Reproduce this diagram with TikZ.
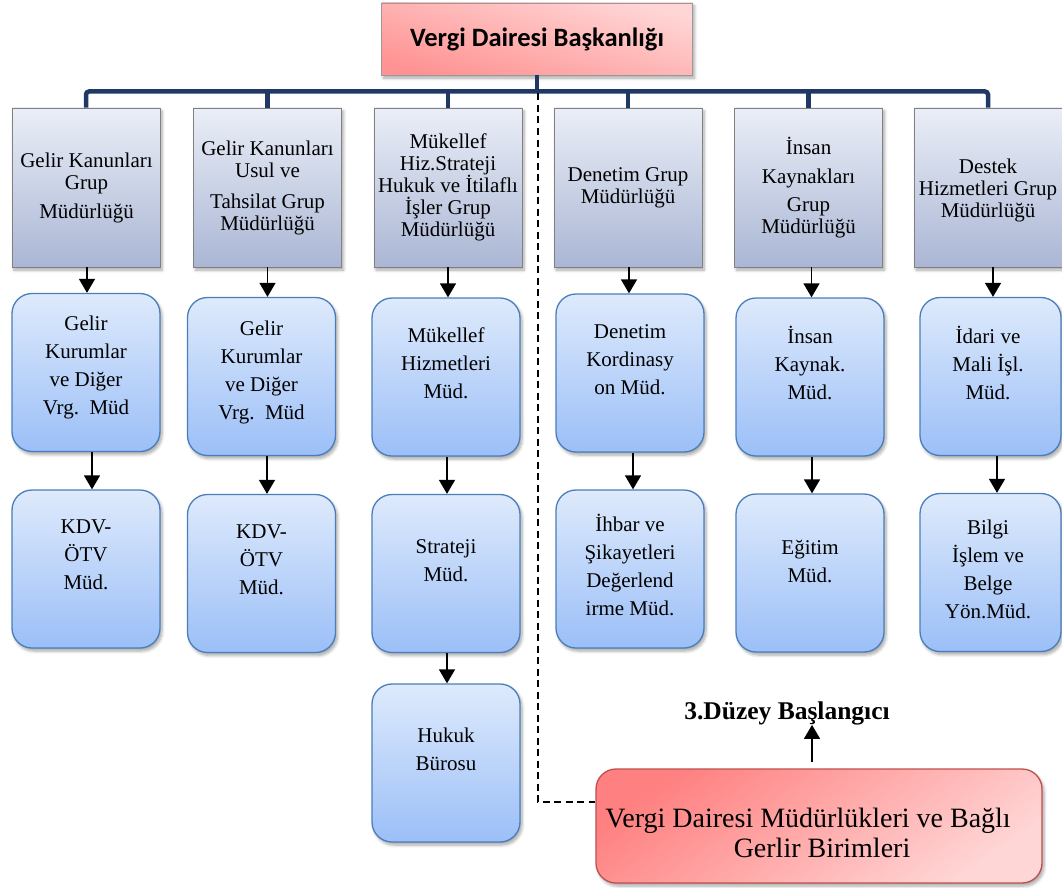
\documentclass[tikz,border=0pt]{standalone}
\usepackage{fontspec}
\setmainfont{Liberation Serif}
\newfontfamily\headfont{Carlito}
\usetikzlibrary{arrows.meta,shadows.blur,calc}

\definecolor{busblue}{RGB}{31,56,100}
\definecolor{graytop}{RGB}{234,238,247}
\definecolor{graybot}{RGB}{170,182,212}
\definecolor{grayedge}{RGB}{128,128,128}
\definecolor{bluetop}{RGB}{222,234,252}
\definecolor{bluebot}{RGB}{155,191,247}
\definecolor{blueedge}{RGB}{74,126,187}
\definecolor{pinklight}{RGB}{255,214,214}
\definecolor{pinkdark}{RGB}{255,128,128}
\definecolor{rededge}{RGB}{190,80,77}

\begin{document}
\begin{tikzpicture}[x=1pt,y=-1pt,
  softshadow/.style={blur shadow={shadow xshift=2pt, shadow yshift=-3pt,
      shadow opacity=35, shadow blur steps=6, shadow blur radius=3pt}},
  headbox/.style={draw=grayedge!80, line width=0.8pt, shading=axis,
      top color=pinklight, bottom color=pinkdark!85, shading angle=-15,
      minimum width=311pt, minimum height=72pt, inner sep=0pt, softshadow,
      font=\headfont\bfseries\fontsize{26.5}{30}\selectfont},
  groupbox/.style={draw=grayedge, line width=0.8pt, top color=graytop,
      bottom color=graybot, minimum width=148pt, minimum height=159pt,
      inner sep=0pt, softshadow},
  unitbox/.style={draw=blueedge, line width=1.3pt, rounded corners=20pt,
      top color=bluetop, bottom color=bluebot, minimum width=148pt,
      minimum height=158pt, inner sep=0pt, softshadow},
  centrebox/.style={draw=rededge, line width=1.3pt, rounded corners=20pt,
      shading=axis, top color=pinkdark, bottom color=pinklight,
      shading angle=35, minimum width=446pt, minimum height=114pt,
      inner sep=0pt, softshadow},
  grouptext/.style={align=center, inner sep=0pt,
      font=\fontsize{21}{22}\selectfont},
  unittext/.style={align=center, inner sep=0pt,
      font=\fontsize{21}{28}\selectfont},
  centretext/.style={align=center, inner sep=0pt,
      font=\fontsize{28}{30}\selectfont},
  leveltext/.style={inner sep=0pt, font=\bfseries\fontsize{25.5}{28}\selectfont},
  arr/.style={-{Triangle[width=16pt,length=14pt]}, line width=1.5pt},
  bus/.style={busblue, line width=4.5pt},
  dashline/.style={line width=1.3pt, dash pattern=on 7pt off 4.5pt},
]
\useasboundingbox (0,0) rectangle (1062,888);
\clip (0,0) rectangle (1062,888);

% head office
\node[headbox] (vdb) at (537,39) {Vergi Dairesi Başkanlığı};

% group directorates
\node[groupbox] (g1) at (86,187.5) {};
\node[groupbox] (g2) at (267.5,187.5) {};
\node[groupbox] (g3) at (448,187.5) {};
\node[groupbox] (g4) at (628,187.5) {};
\node[groupbox] (g5) at (808.5,187.5) {};
\node[groupbox] (g6) at (988,187.5) {};

\node[grouptext] (gt1) at (86.5,188) {Gelir Kanunları\\Grup\\[7pt]Müdürlüğü};
\node[grouptext] (gt2) at (267.5,187.5) {Gelir Kanunları\\Usul ve\\[9pt]Tahsilat Grup\\Müdürlüğü};
\node[grouptext] (gt3) at (448,187.5) {Mükellef\\Hiz.Strateji\\Hukuk ve İtilaflı\\İşler Grup\\Müdürlüğü};
\node[grouptext] (gt4) at (628,188) {Denetim Grup\\Müdürlüğü};
\node[grouptext] (gt5) at (808.5,187.5) {İnsan\\[7pt]Kaynakları\\[6pt]Grup\\Müdürlüğü};
\node[grouptext] (gt6) at (988,190) {Destek\\Hizmetleri Grup\\Müdürlüğü};

% bus from the head office to the groups
\coordinate (busline) at (0,91.5);
\draw[bus, rounded corners=3pt] (g1.north) -- (g1.north |- busline)
  -- (g6.north |- busline) -- (g6.north);
\draw[bus] (vdb.south) -- (vdb.south |- busline);
\foreach \g in {g2,g3,g4,g5}
  \draw[bus] (\g.north) -- (\g.north |- busline);

% unit directorates
\node[unitbox] (b11) at (86,372.5) {};
\node[unitbox] (b12) at (86,569) {};
\node[unitbox] (b21) at (261.5,376.5) {};
\node[unitbox] (b22) at (261.5,573.5) {};
\node[unitbox] (b31) at (446,377) {};
\node[unitbox] (b32) at (446,573.5) {};
\node[unitbox] (b33) at (446,763) {};
\node[unitbox] (b41) at (630,373) {};
\node[unitbox] (b42) at (630,569) {};
\node[unitbox] (b51) at (810,377) {};
\node[unitbox] (b52) at (810,573) {};
\node[unitbox, minimum width=141pt] (b61) at (990.5,376.5) {};
\node[unitbox, minimum width=141pt] (b62) at (990.5,572.5) {};

\node[unittext] (t11) at (86,367.5) {Gelir\\Kurumlar\\ve Diğer\\Vrg.\ \ Müd};
\node[unittext] (t12) at (86,555) {KDV-\\ÖTV\\Müd.};
\node[unittext] (t21) at (261.5,372.5) {Gelir\\Kurumlar\\ve Diğer\\Vrg.\ \ Müd};
\node[unittext] (t22) at (261.5,560) {KDV-\\ÖTV\\Müd.};
\node[unittext] (t31) at (446,363) {Mükellef\\Hizmetleri\\Müd.};
\node[unittext] (t32) at (446,561) {Strateji\\Müd.};
\node[unittext] (t33) at (446,749) {Hukuk\\Bürosu};
\node[unittext] (t41) at (630,360) {Denetim\\Kordinasy\\on Müd.};
\node[unittext] (t42) at (630,565) {İhbar ve\\Şikayetleri\\Değerlend\\irme Müd.};
\node[unittext] (t51) at (810,363) {İnsan\\Kaynak.\\Müd.};
\node[unittext] (t52) at (810,561) {Eğitim\\Müd.};
\node[unittext] (t61) at (988,363) {İdari ve\\Mali İşl.\\Müd.};
\node[unittext] (t62) at (988,569) {Bilgi\\İşlem ve\\Belge\\Yön.Müd.};

% arrows from groups to their first units
\draw[arr] ([xshift=1pt]g1.south) -- ([xshift=1pt]g1.south |- b11.north);
\draw[arr] (g2.south) -- (g2.south |- b21.north);
\draw[arr] (g3.south) -- (g3.south |- b31.north);
\draw[arr] ([xshift=1pt]g4.south) -- ([xshift=1pt]g4.south |- b41.north);
\draw[arr] ([xshift=3pt]g5.south) -- ([xshift=3pt]g5.south |- b51.north);
\draw[arr] ([xshift=5pt]g6.south) -- ([xshift=5pt]g6.south |- b61.north);

% arrows between units
\draw[arr] ([xshift=6pt]b11.south) -- ([xshift=6pt]b11.south |- b12.north);
\draw[arr] ([xshift=5.5pt]b21.south) -- ([xshift=5.5pt]b21.south |- b22.north);
\draw[arr] ([xshift=1pt]b31.south) -- ([xshift=1pt]b31.south |- b32.north);
\draw[arr] ([xshift=1pt]b32.south) -- ([xshift=1pt]b32.south |- b33.north);
\draw[arr] ([xshift=3pt]b41.south) -- ([xshift=3pt]b41.south |- b42.north);
\draw[arr] ([xshift=2pt]b51.south) -- ([xshift=2pt]b51.south |- b52.north);
\draw[arr] ([xshift=6.5pt]b61.south) -- ([xshift=6.5pt]b61.south |- b62.north);

% tax offices and the third level
\node[centrebox] (vd) at (819,826) {};
\node[centretext] (vdt) at (808,833) {Vergi Dairesi Müdürlükleri ve Bağlı\\\hspace*{28pt}Gerlir Birimleri};
\node[leveltext] (lvl) at (787,713) {3.Düzey Başlangıcı};

\coordinate (lvlfoot) at ($(vd.north)+(-7,-6)$);
\draw[arr] (lvlfoot) -- (lvlfoot |- lvl.south);

\coordinate (dtop) at (538,93.5);
\coordinate (dturn) at (538,802);
\draw[dashline] (dtop) -- (dturn) -- (dturn -| vd.west);
\end{tikzpicture}
\end{document}
